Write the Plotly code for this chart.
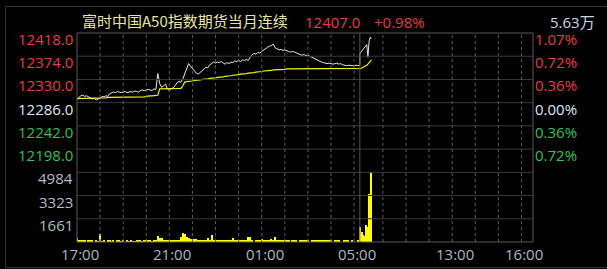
import plotly.graph_objects as go

# ---------------- data ----------------
title_text = "富时中国A50指数期货当月连续"
last_price_text = "12407.0"
change_text = "+0.98%"
total_vol_text = "5.63万"

prev_close = 12286.0
price_ticks = [12418.0, 12374.0, 12330.0, 12286.0, 12242.0, 12198.0]
pct_ticks = ["1.07%", "0.72%", "0.36%", "0.00%", "0.36%", "0.72%"]
vol_ticks = [4984, 3323, 1661]
x_tick_labels = ["17:00", "21:00", "01:00", "05:00", "13:00", "16:00"]

# night session 17:00-05:15, one value per 5 minutes
night_price = [
    12293, 12297, 12299, 12300, 12298, 12299, 12297, 12296, 12293, 12294, 12291, 12293,
    12294, 12298, 12297, 12299, 12298, 12303, 12305, 12306, 12305, 12307, 12306, 12305,
    12306, 12307, 12305, 12306, 12307, 12306, 12308, 12307, 12306, 12309, 12310, 12309,
    12310, 12311, 12310, 12309, 12312, 12311, 12341, 12322, 12315, 12318, 12321, 12312,
    12309, 12313, 12314, 12318, 12324, 12326, 12325, 12331, 12341, 12352, 12360, 12355,
    12350, 12346, 12342, 12340, 12343, 12346, 12349, 12353, 12352, 12358, 12360, 12363,
    12361, 12363, 12362, 12364, 12361, 12359, 12362, 12360, 12363, 12362, 12365, 12364,
    12366, 12364, 12367, 12366, 12368, 12366, 12372, 12377, 12379, 12378, 12381, 12380,
    12383, 12386, 12389, 12391, 12393, 12394, 12397, 12390, 12388, 12386, 12387, 12385,
    12386, 12384, 12383, 12382, 12383, 12382, 12380, 12379, 12377, 12376, 12377, 12375,
    12376, 12374, 12372, 12370, 12368, 12366, 12365, 12363, 12362, 12361, 12360, 12361,
    12360, 12359, 12360, 12361, 12359, 12360, 12358, 12357, 12356, 12357, 12356, 12356,
    12356, 12357, 12356, 12357,
]
night_avg = [
    12293, 12294, 12294, 12294, 12294, 12294, 12294, 12294, 12294, 12294, 12294, 12295,
    12295, 12295, 12295, 12295, 12296, 12296, 12296, 12296, 12296, 12296, 12296, 12296,
    12296, 12296, 12296, 12296, 12296, 12296, 12296, 12296, 12296, 12296, 12296, 12297,
    12298, 12299, 12299, 12299, 12299, 12299, 12300, 12312, 12312, 12312, 12312, 12312,
    12312, 12312, 12312, 12312, 12312, 12312, 12313, 12318, 12325, 12326, 12326, 12327,
    12327, 12328, 12328, 12329, 12329, 12330, 12330, 12331, 12331, 12332, 12332, 12333,
    12333, 12334, 12334, 12335, 12335, 12336, 12336, 12337, 12337, 12338, 12338, 12339,
    12339, 12340, 12340, 12341, 12341, 12342, 12342, 12343, 12343, 12344, 12344, 12345,
    12345, 12346, 12346, 12347, 12347, 12347, 12348, 12348, 12348, 12349, 12349, 12349,
    12349, 12350, 12350, 12350, 12350, 12350, 12350, 12350, 12350, 12350, 12350, 12350,
    12350, 12350, 12350, 12350, 12350, 12350, 12350, 12350, 12350, 12350, 12350, 12350,
    12350, 12350, 12350, 12350, 12350, 12350, 12350, 12350, 12350, 12350, 12350, 12350,
    12350, 12350, 12350, 12350,
]
night_vol = [
    240, 120, 120, 120, 50, 0, 60, 120, 50, 0, 50, 40,
    520, 40, 60, 0, 60, 50, 40, 60, 0, 60, 50, 40,
    60, 0, 50, 40, 60, 40, 40, 50, 60, 50, 40, 120,
    120, 50, 60, 40, 50, 60, 400, 240, 240, 120, 60, 120,
    120, 120, 60, 50, 60, 60, 350, 590, 520, 350, 240, 170,
    170, 170, 170, 100, 60, 120, 100, 60, 280, 120, 470, 120,
    120, 150, 150, 100, 150, 150, 150, 150, 150, 240, 60, 100,
    120, 120, 50, 120, 50, 360, 360, 60, 0, 120, 60, 50,
    180, 60, 50, 120, 60, 180, 120, 360, 50, 100, 100, 100,
    100, 100, 50, 0, 50, 60, 100, 0, 100, 100, 60, 120,
    120, 0, 70, 70, 70, 70, 70, 70, 70, 70, 70, 70,
    70, 0, 70, 70, 70, 0, 0, 70, 70, 70, 0, 70,
    0, 0, 70, 0,
]

# day session from 09:00, one value per 3 minutes
day_times = ["09:00", "09:03", "09:06", "09:09", "09:12", "09:15",
             "09:18", "09:21", "09:24", "09:27", "09:30"]
day_price = [12379, 12382, 12385, 12386, 12391, 12393, 12396, 12372, 12402, 12410, 12407]
day_avg = [12351, 12351, 12352, 12353, 12354, 12355, 12357, 12359, 12361, 12364, 12367]
day_vol = [1070, 285, 710, 470, 400, 1190, 830, 1070, 3440, 1230, 5000]

# ---------------- time scale ----------------
NIGHT_LEN = 735          # 17:00 -> 05:15 in minutes
DAY_LEN = 450            # 09:00 -> 16:30
TOTAL = NIGHT_LEN + DAY_LEN

def to_x(hhmm):
    h, m = map(int, hhmm.split(":"))
    t = h * 60 + m
    if t >= 17 * 60:
        return t - 17 * 60
    if t <= 5 * 60 + 15:
        return t + 7 * 60
    return NIGHT_LEN + (t - 9 * 60)

night_x = [i * 5 for i in range(len(night_price))]
day_x = [to_x(t) for t in day_times]
xs = night_x + day_x
price = night_price + day_price
avg = night_avg + day_avg
vol = night_vol + day_vol

# ---------------- figure ----------------
W, H = 607, 269
L, R, T, B = 77, 74, 33, 27
PW, PH = W - L - R, H - T - B

def px(xp):
    return (xp - L) / PW

def py(yp):
    return 1 - (yp - T) / PH

fig = go.Figure()
fig.add_trace(go.Scatter(x=xs, y=avg, mode="lines", line=dict(color="#f5f500", width=1.2),
                         yaxis="y", hoverinfo="skip"))
fig.add_trace(go.Scatter(x=xs, y=price, mode="lines", line=dict(color="#e8e8e8", width=1),
                         yaxis="y", hoverinfo="skip"))
fig.add_trace(go.Bar(x=xs, y=vol, width=[3] * len(xs), marker=dict(color="#ffff00", line=dict(width=0)),
                     yaxis="y2", hoverinfo="skip"))

row = 44.0
price_lo = price_ticks[0] - 6 * row

fig.update_layout(
    width=W, height=H, margin=dict(l=L, r=R, t=T, b=B),
    paper_bgcolor="#000000", plot_bgcolor="#000000",
    showlegend=False, bargap=0,
    xaxis=dict(range=[0, TOTAL], showgrid=False, zeroline=False, showticklabels=False, fixedrange=True),
    yaxis=dict(domain=[1 / 3, 1], range=[price_lo, price_ticks[0]], showgrid=False, zeroline=False,
               showticklabels=False),
    yaxis2=dict(domain=[0, 1 / 3], range=[0, vol_ticks[0]], showgrid=False, zeroline=False,
                showticklabels=False),
)

shapes = []
grid_c = "#3a3a3a"
for i in range(1, 9):
    yv = 1 - i / 9
    shapes.append(dict(type="line", xref="paper", yref="paper", x0=0, x1=1, y0=yv, y1=yv,
                       line=dict(color=grid_c, width=1)))
hours_night = [f"{h:02d}:00" for h in [18, 19, 20, 21, 22, 23, 0, 1, 2, 3, 4, 5]]
hours_day = [f"{h:02d}:00" for h in [10, 11, 12, 13, 14, 15, 16]]
for hh in hours_night + hours_day:
    xv = to_x(hh)
    shapes.append(dict(type="line", xref="x", yref="paper", x0=xv, x1=xv, y0=0, y1=1,
                       line=dict(color="#5a5a5a", width=1, dash="dot")))
shapes.append(dict(type="line", xref="x", yref="paper", x0=NIGHT_LEN, x1=NIGHT_LEN, y0=0, y1=1,
                   line=dict(color="#555555", width=1)))
shapes.append(dict(type="rect", xref="paper", yref="paper", x0=0, x1=1, y0=0, y1=1,
                   line=dict(color="#5a5a5a", width=1)))
shapes.append(dict(type="line", xref="paper", yref="paper", x0=px(5.5), x1=px(607), y0=py(6.5), y1=py(6.5),
                   line=dict(color="#333333", width=1)))
shapes.append(dict(type="line", xref="paper", yref="paper", x0=px(5.5), x1=px(5.5), y0=py(6.5), y1=py(267.5),
                   line=dict(color="#333333", width=1)))
shapes.append(dict(type="line", xref="paper", yref="paper", x0=px(5.5), x1=px(607), y0=py(267.5), y1=py(267.5),
                   line=dict(color="#333333", width=1)))
fig.update_layout(shapes=shapes)

NUMFONT = "Open Sans, Noto Sans CJK SC, sans-serif"
CJKFONT = "Noto Sans CJK SC, sans-serif"
RED, GREEN, WHITE, GRAY = "#ec3a45", "#2bc35a", "#dce8f4", "#b4bcc4"
ann = []
fs = 15
for i, (pv, pc) in enumerate(zip(price_ticks, pct_ticks)):
    col = RED if pv > prev_close else (WHITE if pv == prev_close else GREEN)
    yv = py(T + i * PH / 9 + 6)
    ann.append(dict(text=f"{pv:.1f}", xref="paper", yref="paper", x=px(74), y=yv, xanchor="right",
                    yanchor="middle", showarrow=False, font=dict(family=NUMFONT, size=fs, color=col)))
    ann.append(dict(text=pc, xref="paper", yref="paper", x=px(534), y=yv, xanchor="left",
                    yanchor="middle", showarrow=False, font=dict(family=NUMFONT, size=fs, color=col)))
for i, v in enumerate(vol_ticks):
    yv = py(T + (6 + i) * PH / 9 + 6)
    ann.append(dict(text=str(v), xref="paper", yref="paper", x=px(74), y=yv, xanchor="right",
                    yanchor="middle", showarrow=False, font=dict(family=NUMFONT, size=fs, color=GRAY)))
for lab in x_tick_labels:
    ann.append(dict(text=lab, xref="x", yref="paper", x=to_x(lab), y=py(254), xanchor="center",
                    yanchor="middle", xshift=3, showarrow=False,
                    font=dict(family=NUMFONT, size=fs, color="#a8b6c6")))
ann.append(dict(text=title_text, xref="paper", yref="paper", x=px(185), y=py(20.5), xanchor="center",
                yanchor="middle", showarrow=False, font=dict(family=CJKFONT, size=15, color="#e6e6a0")))
ann.append(dict(text=last_price_text, xref="paper", yref="paper", x=px(304), y=py(21.5), xanchor="left",
                yanchor="middle", showarrow=False, font=dict(family=NUMFONT, size=fs, color=RED)))
ann.append(dict(text=change_text, xref="paper", yref="paper", x=px(373), y=py(21.5), xanchor="left",
                yanchor="middle", showarrow=False, font=dict(family=NUMFONT, size=fs, color=RED)))
ann.append(dict(text=total_vol_text, xref="paper", yref="paper", x=px(596), y=py(21.5), xanchor="right",
                yanchor="middle", showarrow=False, font=dict(family=NUMFONT, size=fs, color="#c8d8e8")))
for a in ann:
    a["borderpad"] = 0
fig.update_layout(annotations=ann)

fig.write_html("out.html", config={"displayModeBar": False})
